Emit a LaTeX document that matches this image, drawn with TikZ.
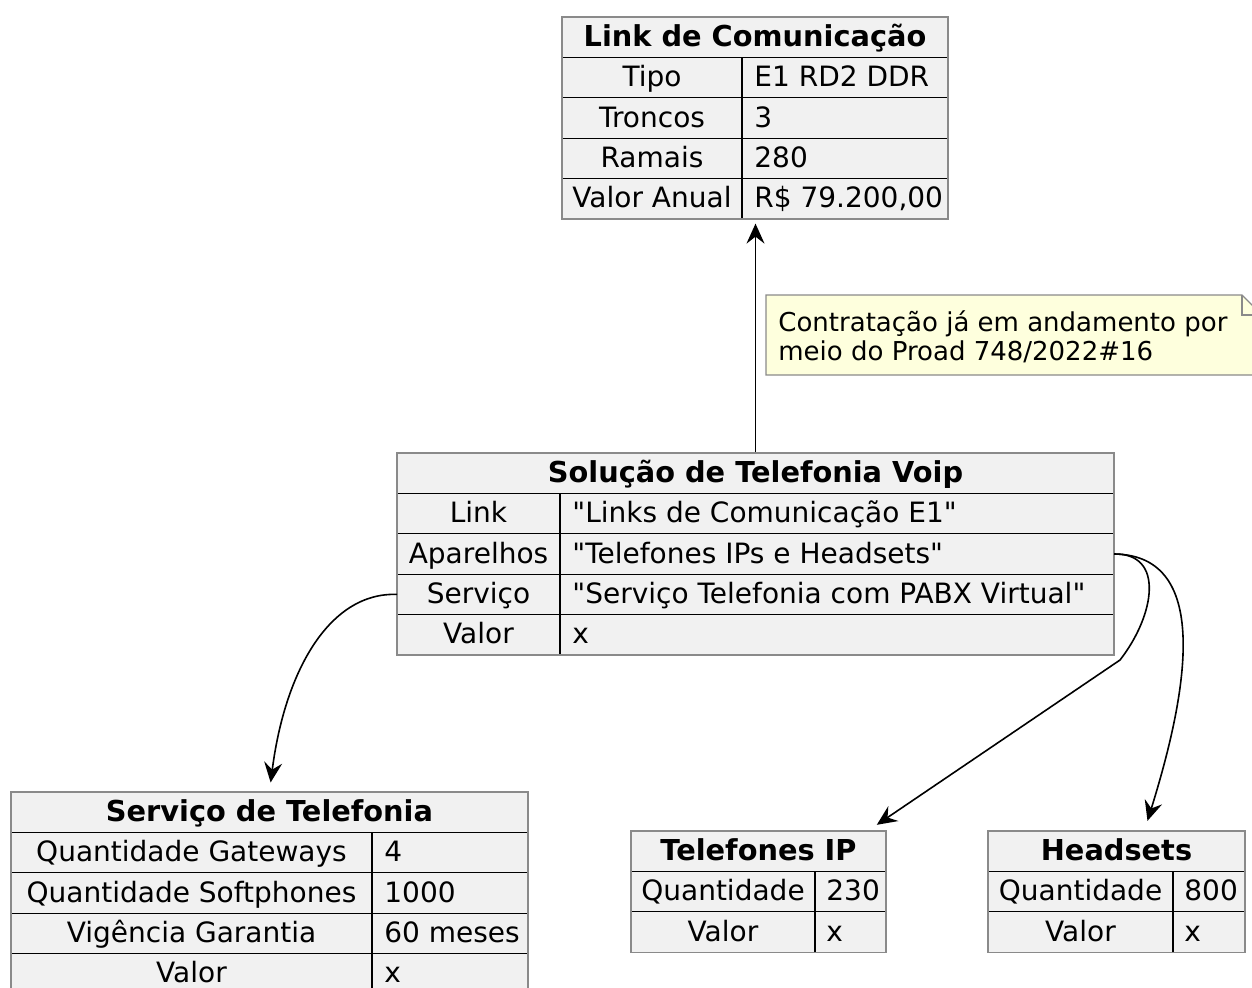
\documentclass[tikz,border=0pt]{standalone}
\usepackage{fontspec}
\setmainfont{DejaVu Sans}[Ligatures=TeXOff]
\usetikzlibrary{fit,arrows.meta,positioning}
\definecolor{cellgray}{HTML}{F1F1F1}
\definecolor{notefill}{HTML}{FEFFDD}
\definecolor{framegray}{HTML}{8A8A8A}
\newcommand{\clrcell}{cellgray}
\newcommand{\clrnote}{notefill}
\newcommand{\clrframe}{framegray}

\begin{document}
\begin{tikzpicture}[x=0.5pt, y=-0.5pt,
    cell/.style={draw=black, fill=\clrcell, line width=0.6pt, inner sep=0pt, outer sep=0pt,
        minimum height=20.2pt, text height=11.8pt, text depth=2.8pt, anchor=north west,
        font=\fontsize{14}{17}\selectfont},
    titlecell/.style={cell, minimum width=#1, font=\fontsize{14.4}{17}\selectfont\bfseries},
    keycell/.style={cell, minimum width=#1},
    valcell/.style={cell, minimum width=#1},
    valtext/.style={anchor=west, inner sep=0pt, xshift=6pt, text height=11.8pt, text depth=2.8pt,
        font=\fontsize{14}{17}\selectfont},
    frame/.style={draw=\clrframe, line width=0.6pt, inner sep=0pt, fit=#1},
    arrowline/.style={-{Stealth[length=10pt,width=9pt,inset=3.5pt]}, line width=0.8pt},
    notetext/.style={anchor=west, align=left, inner sep=0pt, font=\fontsize{13}{14.5}\selectfont}]
    \useasboundingbox (0,0) rectangle (1252,987);

    % Link de Comunicacao
    \node[titlecell=193pt] (link0) at (562,17) {Link de Comunicação};
    \foreach \k/\v [count=\i] in {Tipo/E1 RD2 DDR, Troncos/3, Ramais/280, {Valor Anual}/{R\$ 79.200,00}} {
        \node[keycell=90pt] (link-k\i) at (562,{17+\i*40.4}) {\k};
        \node[valcell=103pt, label={[valtext]west:\v}] (link-v\i) at (742,{17+\i*40.4}) {};
    }
    \node[frame={(link0)(link-v4)}] (link) {};

    % Solucao de Telefonia Voip
    \node[titlecell=358.5pt] (sol0) at (397,453) {Solução de Telefonia Voip};
    \foreach \k/\v [count=\i] in {Link/"Links de Comunicação E1", Aparelhos/"Telefones IPs e Headsets",
        Serviço/"Serviço Telefonia com PABX Virtual", Valor/x} {
        \node[keycell=81.5pt] (sol-k\i) at (397,{453+\i*40.4}) {\k};
        \node[valcell=277pt, label={[valtext]west:\v}] (sol-v\i) at (560,{453+\i*40.4}) {};
    }
    \node[frame={(sol0)(sol-v4)}] (sol) {};

    % Servico de Telefonia
    \node[titlecell=258.5pt] (svc0) at (11,792) {Serviço de Telefonia};
    \foreach \k/\v [count=\i] in {Quantidade Gateways/4, Quantidade Softphones/1000,
        Vigência Garantia/60 meses, Valor/x} {
        \node[keycell=180.5pt] (svc-k\i) at (11,{792+\i*40.4}) {\k};
        \node[valcell=78pt, label={[valtext]west:\v}] (svc-v\i) at (372,{792+\i*40.4}) {};
    }
    \node[frame={(svc0)(svc-v4)}] (svc) {};

    % Telefones IP
    \node[titlecell=127.5pt] (tel0) at (631,831) {Telefones IP};
    \foreach \k/\v [count=\i] in {Quantidade/230, Valor/x} {
        \node[keycell=92pt] (tel-k\i) at (631,{831+\i*40.4}) {\k};
        \node[valcell=35.5pt, label={[valtext, xshift=-0.5pt]west:\v}] (tel-v\i) at (815,{831+\i*40.4}) {};
    }
    \node[frame={(tel0)(tel-v2)}] (tel) {};

    % Headsets
    \node[titlecell=128.5pt] (head0) at (988,831) {Headsets};
    \foreach \k/\v [count=\i] in {Quantidade/800, Valor/x} {
        \node[keycell=92.5pt] (head-k\i) at (988,{831+\i*40.4}) {\k};
        \node[valcell=36pt, label={[valtext, xshift=-0.5pt]west:\v}] (head-v\i) at (1173,{831+\i*40.4}) {};
    }
    \node[frame={(head0)(head-v2)}] (head) {};

    % note
    \draw[draw=\clrframe, fill=\clrnote, line width=0.6pt] (766,295) -- (1242,295) -- (1262,315)
        -- (1262,375) -- (766,375) -- cycle;
    \draw[\clrframe, line width=0.6pt] (1242,295) -- (1242,315) -- (1262,315);
    \node[notetext] (note) at (778,337) {Contratação já em andamento por\\meio do Proad 748/2022\#16};

    \draw[arrowline, shorten >=2pt] (sol.north) -- (sol.north |- link.south);
    \draw[arrowline, shorten >=4.5pt] (sol-k3.west) .. controls (330,592) and (285,670) .. (svc.north);
    \draw[arrowline, shorten >=5pt] (sol-v2.east) .. controls (1165,553) and (1155,615) .. (1120,660)
        -- ([xshift=55pt]tel.north);
    \draw[arrowline, shorten >=5pt] (sol-v2.east) .. controls (1215,555) and (1185,700) .. ([xshift=14pt]head.north);

\end{tikzpicture}
\end{document}
